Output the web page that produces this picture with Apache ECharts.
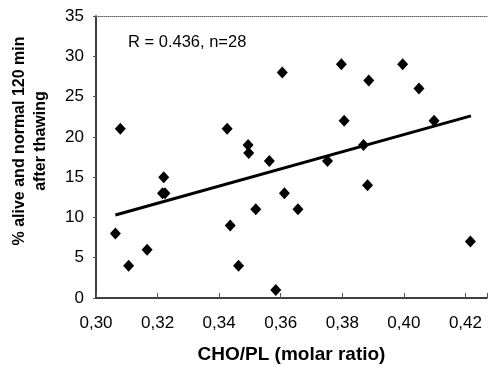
<!DOCTYPE html>
<html>
<head>
<meta charset="utf-8">
<script src="https://cdn.jsdelivr.net/npm/echarts@6/dist/echarts.min.js"></script>
<style>
  html, body { margin: 0; padding: 0; background: #fff; }
  #main { width: 490px; height: 369px; }
</style>
</head>
<body>
<div id="main"></div>
<script>
// measured points (CHO/PL molar ratio, % alive and normal)
var ratio = [0.3063, 0.3079, 0.3106, 0.3166, 0.3216, 0.3224, 0.3220, 0.3426, 0.3436, 0.3463,
             0.3494, 0.3496, 0.3519, 0.3563, 0.3584, 0.3605, 0.3612, 0.3656, 0.3752, 0.3797,
             0.3806, 0.3869, 0.3882, 0.3886, 0.3996, 0.4049, 0.4098, 0.4216];
var alive = [8, 21, 4, 6, 13, 13, 15, 21, 9, 4,
             19, 18, 11, 17, 1, 28, 13, 11, 17, 29,
             22, 19, 14, 27, 29, 26, 22, 7];
// regression line ends
var fitX = [0.3063, 0.4218];
var fitY = [10.3, 22.6];
var xTicks = [0.30, 0.32, 0.34, 0.36, 0.38, 0.40, 0.42];

var font = "Arial, 'Liberation Sans', sans-serif";
var myChart = echarts.init(document.getElementById('main'));

var points = ratio.map(function (r, i) { return [r, alive[i]]; });
var fitLine = fitX.map(function (x, i) { return [x, fitY[i]]; });

var option = {
  animation: false,
  grid: { left: 96, right: 0, top: 16, bottom: 66 },
  xAxis: [
    {
      type: 'value',
      min: 0.30,
      max: 0.427,
      interval: 0.02,
      name: 'CHO/PL (molar ratio)',
      nameLocation: 'middle',
      nameGap: 47,
      nameTextStyle: { fontFamily: font, fontSize: 19, fontWeight: 'bold', color: '#000' },
      axisLine: { lineStyle: { color: '#000', width: 1.5 } },
      axisTick: { inside: true, length: 5, lineStyle: { color: '#555' } },
      axisLabel: {
        fontFamily: font, fontSize: 17, color: '#000', margin: 17,
        formatter: function (v) {
          var hit = xTicks.some(function (t) { return Math.abs(t - v) < 1e-6; });
          return hit ? v.toFixed(2).replace('.', ',') : '';
        }
      },
      splitLine: { show: false }
    },
    {
      type: 'value',
      position: 'top',
      min: 0.30,
      max: 0.427,
      axisLine: { show: true, lineStyle: { color: '#666', type: 'dotted', width: 1 } },
      axisTick: { show: false },
      axisLabel: { show: false },
      splitLine: { show: false }
    }
  ],
  yAxis: {
    type: 'value',
    min: 0,
    max: 35,
    interval: 5,
    axisLine: { show: true, lineStyle: { color: '#000', width: 1.5 } },
    axisTick: { show: true, length: 3, lineStyle: { color: '#555' } },
    axisLabel: { fontFamily: font, fontSize: 17, color: '#000', margin: 12 },
    splitLine: { show: false }
  },
  graphic: [
    {
      type: 'text',
      left: 128,
      top: 34,
      style: { text: 'R = 0.436, n=28', font: '16.5px ' + font, fill: '#000' }
    },
    {
      // y axis title, two lines, rotated
      type: 'text',
      x: 30,
      y: 141,
      rotation: Math.PI / 2,
      style: {
        text: '% alive and normal 120 min\nafter thawing',
        font: 'bold 16px ' + font,
        fill: '#000',
        align: 'center',
        verticalAlign: 'middle',
        lineHeight: 21
      }
    }
  ],
  series: [
    {
      type: 'line',
      data: fitLine,
      symbol: 'none',
      lineStyle: { color: '#000', width: 3 },
      z: 2
    },
    {
      type: 'scatter',
      data: points,
      symbol: 'diamond',
      symbolSize: [11, 12],
      itemStyle: { color: '#000', opacity: 1 },
      z: 3
    }
  ]
};

myChart.setOption(option);
</script>
</body>
</html>
